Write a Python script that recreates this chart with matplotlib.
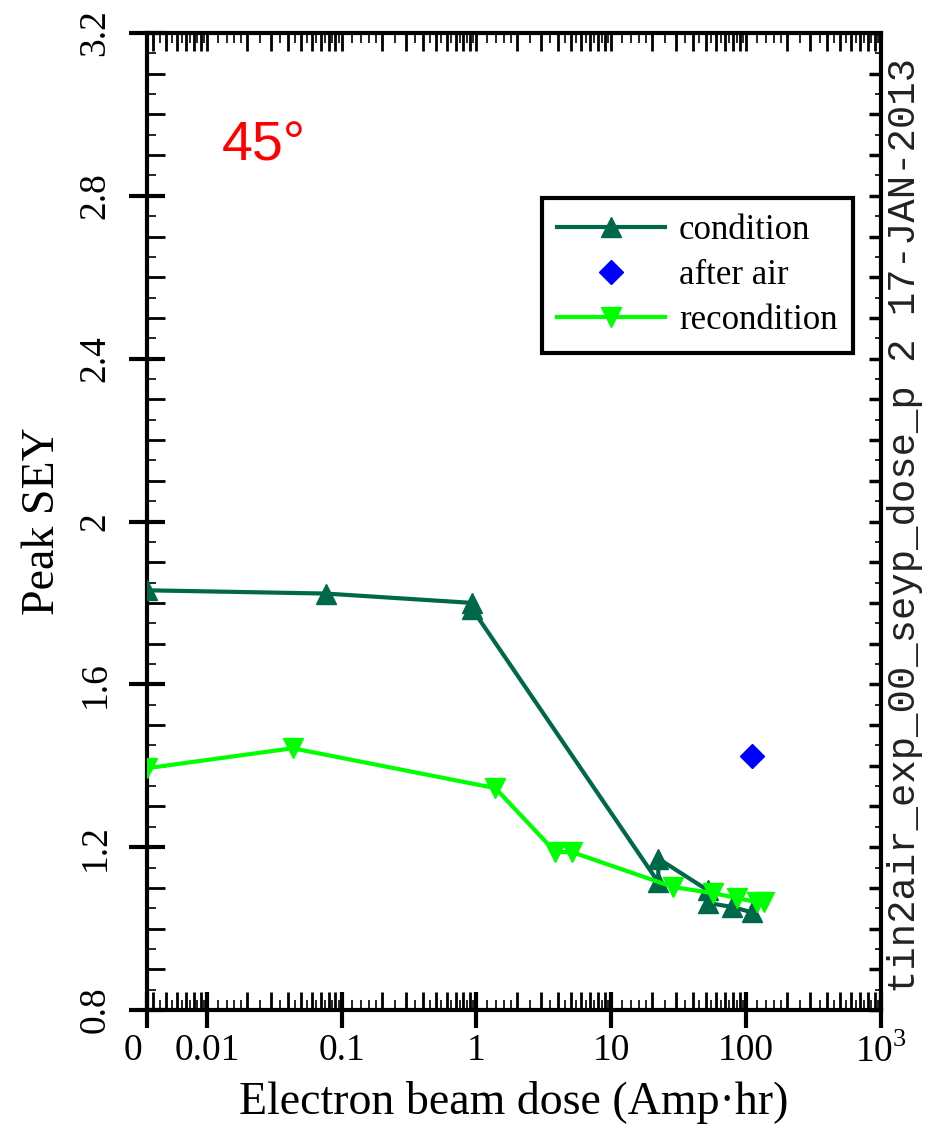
import numpy as np
import matplotlib
matplotlib.use("Agg")
import matplotlib.pyplot as plt
import matplotlib.transforms as mtransforms
from matplotlib.ticker import FixedLocator, NullLocator, NullFormatter

plt.rcParams['font.family'] = ['Liberation Serif', 'DejaVu Serif']
plt.rcParams['mathtext.fontset'] = 'custom'
plt.rcParams['mathtext.rm'] = 'Liberation Serif'

# dose "0" is drawn at the left edge of the log axis
X_ZERO = 0.0036

# condition series (dark green, up triangles)
cond_dose = [X_ZERO, 0.076, 0.93, 0.93, 22.3, 22.3, 52, 52, 79, 110]
cond_sey = [1.831, 1.823, 1.800, 1.785, 1.114, 1.172, 1.094, 1.063, 1.053, 1.040]

# after air exposure (blue diamond)
air_dose = [110]
air_sey = [1.423]

# recondition series (light green, down triangles)
recond_dose = [X_ZERO, 0.0433, 1.38, 3.85, 5.1, 28.8, 57, 86, 120, 135]
recond_sey = [1.394, 1.443, 1.345, 1.188, 1.188, 1.102, 1.087, 1.075, 1.065, 1.065]

x_ticks = [X_ZERO, 0.01, 0.1, 1, 10, 100, 1000]
x_tick_labels = ['0', '0.01', '0.1', '1', '10', '100', r'$10^3$']
y_ticks = [0.8, 1.2, 1.6, 2.0, 2.4, 2.8, 3.2]
y_tick_labels = ['0.8', '1.2', '1.6', '2', '2.4', '2.8', '3.2']

DARK_GREEN = '#00684a'
LIGHT_GREEN = '#00ff00'

# tick positions for the dense log ticks
decades = [10.0 ** e for e in range(-3, 3)]
medium = [k * d for d in decades for k in range(2, 10) if X_ZERO < k * d < 1000]
small_steps = [1.2, 1.4, 1.6, 1.8, 2.5, 3.5, 4.5, 5.5, 6.5, 7.5, 8.5, 9.5]
small = [s * d for d in decades for s in small_steps if X_ZERO < s * d < 1000]
y_tenths = list(np.round(np.arange(0.8, 3.201, 0.1), 2))
y_halves = list(np.round(np.arange(0.85, 3.2, 0.1), 3))

fig = plt.figure(figsize=(9.29, 11.38), dpi=100)
ax = fig.add_axes([147 / 929, 1 - 1010 / 1138, (881 - 147) / 929, (1010 - 33) / 1138])

ax.plot(cond_dose, cond_sey, color=DARK_GREEN, lw=3, marker='^', ms=15,
        label='condition', zorder=3)
ax.plot(air_dose, air_sey, color='#0000ff', ls='none', marker='D', ms=12,
        label='after air', zorder=3)
ax.plot(recond_dose, recond_sey, color=LIGHT_GREEN, lw=3, marker='v', ms=15,
        label='recondition', zorder=4)

ax.set_xscale('log')
ax.set_xlim(X_ZERO, 1000)
ax.set_ylim(0.8, 3.2)

for sp in ax.spines.values():
    sp.set_linewidth(3)

ax.xaxis.set_major_locator(FixedLocator(x_ticks))
ax.set_xticklabels(x_tick_labels)
ax.xaxis.set_minor_locator(FixedLocator(medium))
ax.xaxis.set_minor_formatter(NullFormatter())
ax.yaxis.set_major_locator(FixedLocator(y_ticks))
ax.set_yticklabels(y_tick_labels)
ax.yaxis.set_minor_locator(FixedLocator(y_tenths))

ax.tick_params(axis='both', which='major', direction='inout', length=26, width=3,
               labelsize=27, top=False, right=False)
ax.tick_params(axis='both', which='minor', direction='in', length=13, width=2,
               top=False, right=False)
ax.tick_params(axis='x', which='major', pad=4)
ax.tick_params(axis='y', which='major', pad=12, labelrotation=90)
for lab in ax.get_yticklabels():
    lab.set_va('center')

# the "0" label sits a little left of the axis corner
zero_lab = ax.get_xticklabels()[0]
zero_lab.set_transform(zero_lab.get_transform() +
                       mtransforms.ScaledTranslation(-0.14, 0, fig.dpi_scale_trans))

# small ticks on bottom and left
sb = ax.secondary_xaxis('bottom')
sb.xaxis.set_major_locator(NullLocator())
sb.xaxis.set_minor_locator(FixedLocator(small))
sb.xaxis.set_minor_formatter(NullFormatter())
sb.tick_params(which='minor', direction='in', length=7, width=1.2)
sb.spines['bottom'].set_visible(False)

sl = ax.secondary_yaxis('left')
sl.yaxis.set_major_locator(NullLocator())
sl.yaxis.set_minor_locator(FixedLocator(y_halves))
sl.yaxis.set_minor_formatter(NullFormatter())
sl.tick_params(which='minor', direction='in', length=6.5, width=1.2)
sl.spines['left'].set_visible(False)

# top and right ticks point inward only
st = ax.secondary_xaxis('top')
st.xaxis.set_major_locator(FixedLocator(x_ticks + medium))
st.xaxis.set_minor_locator(FixedLocator(small))
st.xaxis.set_major_formatter(NullFormatter())
st.xaxis.set_minor_formatter(NullFormatter())
st.tick_params(which='major', direction='in', length=13, width=2)
st.tick_params(which='minor', direction='in', length=7, width=1.2)
st.spines['top'].set_visible(False)

sr = ax.secondary_yaxis('right')
sr.yaxis.set_major_locator(FixedLocator(y_tenths))
sr.yaxis.set_minor_locator(FixedLocator(y_halves))
sr.yaxis.set_major_formatter(NullFormatter())
sr.yaxis.set_minor_formatter(NullFormatter())
sr.tick_params(which='major', direction='in', length=9, width=2.5)
sr.tick_params(which='minor', direction='in', length=4.5, width=1.2)
sr.spines['right'].set_visible(False)

ax.set_xlabel('Electron beam dose (Amp\u00b7hr)', fontsize=33, labelpad=8)
ax.set_ylabel('Peak SEY', fontsize=33, labelpad=10)

ax.text(0.102, 0.87, '45\u00b0', transform=ax.transAxes, color='red',
        fontsize=40, family=['Liberation Sans', 'DejaVu Sans'], ha='left', va='baseline')

leg = ax.legend(loc='upper right', bbox_to_anchor=(0.962, 0.831), borderaxespad=0,
                fontsize=25, frameon=True, fancybox=False, framealpha=1,
                handlelength=3.1, handletextpad=0.4, labelspacing=0.35, borderpad=0.45)
leg.get_frame().set_linewidth(3)
leg.get_frame().set_edgecolor('black')

fig.text(905 / 929, 1 - 525 / 1138, 'tin2air_exp_00_seyp_dose_p 2 17-JAN-2013',
         rotation=90, ha='center', va='center', fontsize=28, color='#222222',
         family=['Liberation Mono', 'DejaVu Sans Mono'])

fig.savefig('out.png', dpi=100)
